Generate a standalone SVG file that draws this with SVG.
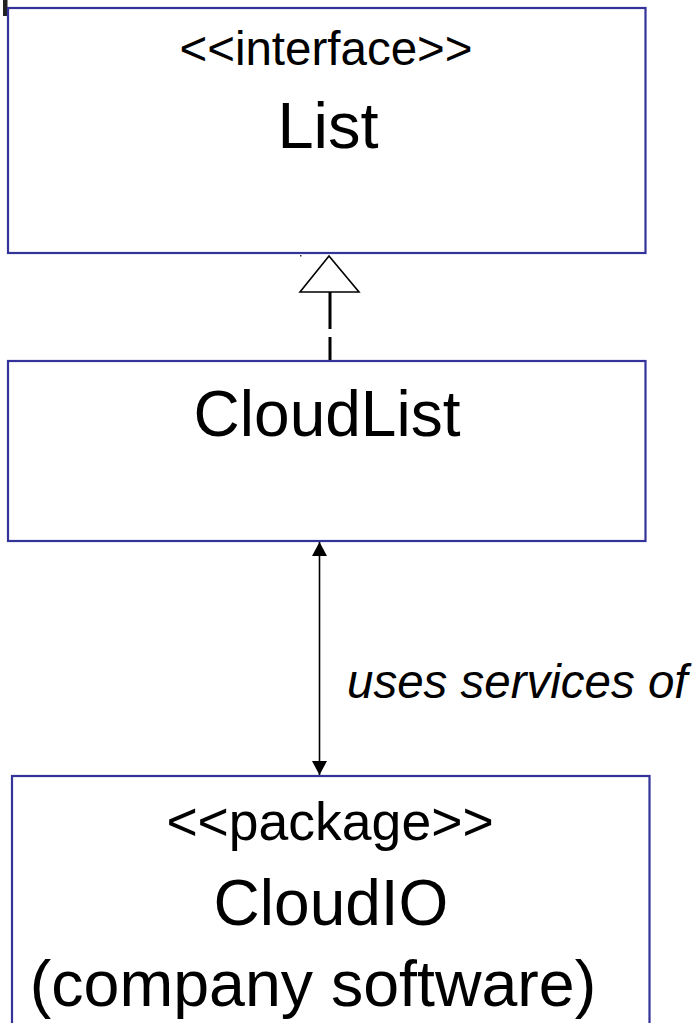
<svg xmlns="http://www.w3.org/2000/svg" width="697" height="1023" viewBox="0 0 697 1023">
  <style>
    .box { fill: #ffffff; stroke: #333399; stroke-width: 2.2; }
    .t { font-family: "Liberation Sans", Arial, sans-serif; fill: #000000; text-anchor: middle; }
    .edge { stroke: #000000; fill: none; }
  </style>
  <defs>
    <marker id="head" viewBox="0 0 14 15" refX="14" refY="7.5" markerWidth="14" markerHeight="15" markerUnits="userSpaceOnUse" orient="auto-start-reverse">
      <path d="M0,0 L14,7.5 L0,15 Z" fill="#000000"/>
    </marker>
  </defs>
  <rect width="697" height="1023" fill="#ffffff"/>
  <!-- fragment at the top-left edge -->
  <rect x="3" y="0" width="4.5" height="16" fill="#222222"/>

  <g id="node-list">
    <rect class="box" x="8" y="8" width="637.5" height="245"/>
    <text class="t" x="326" y="65" font-size="47.5">&lt;&lt;interface&gt;&gt;</text>
    <text class="t" x="328" y="148" font-size="65">List</text>
  </g>

  <g id="node-cloudlist">
    <rect class="box" x="8" y="361" width="637.5" height="180"/>
    <text class="t" x="327" y="436" font-size="64">CloudList</text>
  </g>

  <g id="node-cloudio">
    <rect class="box" x="12" y="776" width="637.5" height="260"/>
    <text class="t" x="330" y="840" font-size="53.5">&lt;&lt;package&gt;&gt;</text>
    <text class="t" x="331" y="925" font-size="64">CloudIO</text>
    <text class="t" x="313" y="1006" font-size="64.5">(company software)</text>
  </g>

  <g id="connectors">
    <!-- realization: CloudList implements List -->
    <line class="edge" x1="330" y1="292" x2="330" y2="360" stroke-width="3" stroke-dasharray="37 8"/>
    <polygon points="329,256 300,292 359,292" fill="#ffffff" stroke="#000000" stroke-width="1.6"/>
    <rect x="300" y="255" width="1.5" height="1.5" fill="#333333"/>
    <!-- dependency: CloudList uses CloudIO -->
    <line class="edge" x1="319.5" y1="542" x2="319.5" y2="775" stroke-width="1.6" marker-start="url(#head)" marker-end="url(#head)"/>
    <text x="347" y="698" font-family="Liberation Sans, Arial, sans-serif" font-style="italic" font-size="47.5" fill="#000000">uses services of</text>
  </g>
</svg>
